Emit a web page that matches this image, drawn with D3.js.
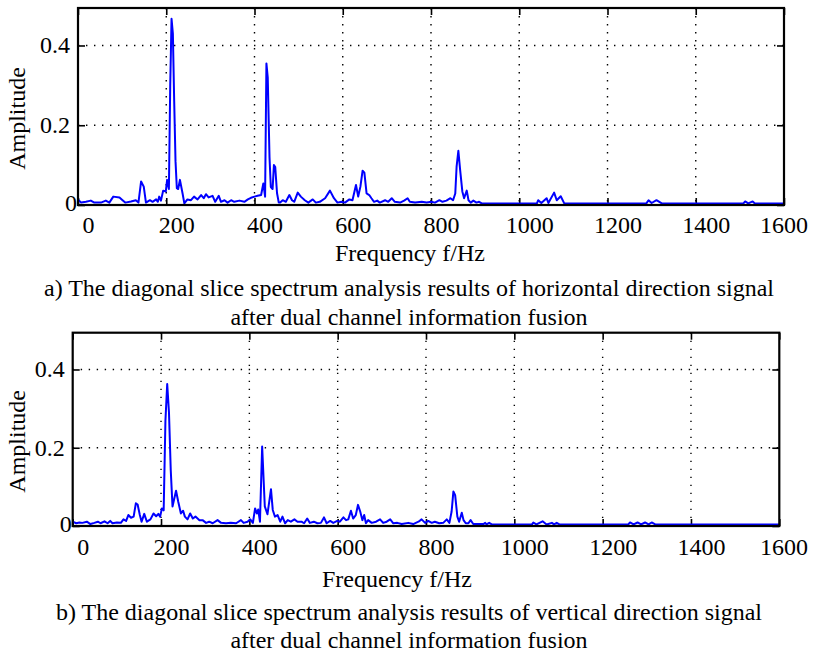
<!DOCTYPE html>
<html>
<head>
<meta charset="utf-8">
<script src="https://cdn.jsdelivr.net/npm/d3@7"></script>
<style>
  body { margin: 0; background: #fff; }
  svg text { font-family: "Liberation Serif", "Times New Roman", serif; font-size: 24px; fill: #000; }
  .grid line { stroke: #000; stroke-width: 1.4; stroke-dasharray: 1.4,6.6; }
  .box { fill: none; stroke: #000; stroke-width: 2.2; }
  .tick line { stroke: #000; stroke-width: 1.6; }
  .domain { display: none; }
</style>
</head>
<body>
<div id="chart"></div>
<script>
// tick values
var xTicks = [0, 200, 400, 600, 800, 1000, 1200, 1400, 1600];
var yTicks = [0, 0.2, 0.4];

// a) horizontal direction signal
var topFreq = [0, 7, 18, 29, 37, 52, 63, 71, 80, 94, 101, 107, 120, 131, 137, 143, 149, 154, 163, 169,
  177, 181, 184, 188, 193, 199, 202, 206, 209, 212, 215, 218, 221, 224, 227, 231, 237, 241, 248, 256,
  263, 271, 279, 285, 290, 296, 305, 311, 319, 324, 332, 339, 347, 354, 366, 377, 385, 392, 400, 407,
  415, 420, 424, 427, 430, 434, 437, 441, 444, 447, 451, 455, 458, 464, 471, 479, 485, 490, 498, 505,
  514, 522, 532, 539, 548, 560, 571, 580, 588, 597, 605, 615, 622, 630, 635, 640, 645, 649, 654, 660,
  665, 671, 678, 684, 696, 703, 711, 718, 730, 739, 747, 752, 764, 779, 790, 801, 809, 819, 826, 835,
  844, 850, 855, 858, 862, 866, 871, 875, 881, 885, 890, 896, 903, 909, 915, 1040, 1043, 1050, 1062, 1066,
  1079, 1085, 1094, 1102, 1288, 1293, 1300, 1311, 1323, 1508, 1512, 1519, 1529, 1534, 1600];
var topAmp = [0.014, 0.006, 0.008, 0.011, 0.006, 0.006, 0.011, 0.006, 0.021, 0.019, 0.012, 0.006, 0.009, 0.012, 0.006, 0.059, 0.046, 0.006, 0.012, 0.008,
  0.014, 0.008, 0.021, 0.011, 0.036, 0.034, 0.063, 0.040, 0.300, 0.467, 0.430, 0.260, 0.110, 0.042, 0.040, 0.063, 0.029, 0.004, 0.014, 0.012,
  0.021, 0.014, 0.025, 0.017, 0.027, 0.019, 0.023, 0.008, 0.023, 0.008, 0.012, 0.006, 0.012, 0.008, 0.011, 0.008, 0.014, 0.018, 0.021, 0.023,
  0.025, 0.054, 0.021, 0.355, 0.320, 0.120, 0.045, 0.040, 0.100, 0.095, 0.030, 0.006, 0.006, 0.012, 0.008, 0.025, 0.012, 0.008, 0.031, 0.021,
  0.012, 0.006, 0.014, 0.006, 0.008, 0.017, 0.036, 0.017, 0.006, 0.008, 0.006, 0.014, 0.012, 0.050, 0.021, 0.046, 0.086, 0.081, 0.029, 0.025,
  0.017, 0.008, 0.011, 0.006, 0.012, 0.008, 0.017, 0.008, 0.006, 0.011, 0.017, 0.008, 0.006, 0.008, 0.006, 0.008, 0.006, 0.012, 0.008, 0.011,
  0.017, 0.012, 0.029, 0.096, 0.136, 0.088, 0.034, 0.017, 0.036, 0.012, 0.006, 0.011, 0.006, 0.008, 0.004, 0.004, 0.012, 0.005, 0.017, 0.005,
  0.031, 0.012, 0.022, 0.004, 0.004, 0.012, 0.005, 0.012, 0.004, 0.004, 0.009, 0.004, 0.009, 0.004, 0.004];

// b) vertical direction signal
var botFreq = [0, 8, 15, 22, 32, 40, 49, 57, 63, 72, 79, 85, 90, 100, 109, 115, 121, 126, 132, 138,
  143, 147, 152, 156, 162, 168, 176, 183, 189, 194, 198, 202, 206, 210, 214, 218, 222, 226, 234, 239,
  245, 250, 254, 260, 266, 272, 278, 287, 294, 302, 309, 317, 328, 336, 347, 358, 370, 381, 387, 396,
  402, 408, 413, 417, 420, 424, 429, 435, 441, 446, 449, 453, 458, 464, 470, 475, 481, 487, 494, 502,
  509, 518, 524, 531, 537, 546, 554, 562, 569, 575, 583, 590, 599, 605, 613, 619, 624, 630, 635, 641,
  646, 651, 656, 660, 664, 669, 677, 687, 696, 703, 711, 719, 726, 735, 745, 760, 771, 783, 790, 798,
  805, 813, 820, 830, 839, 847, 853, 858, 862, 866, 871, 875, 881, 885, 890, 896, 901, 907, 930, 934,
  937, 943, 949, 1040, 1043, 1050, 1064, 1073, 1085, 1090, 1096, 1102, 1258, 1262, 1270, 1279, 1287, 1296, 1304, 1311,
  1319, 1600];
var botAmp = [0.011, 0.007, 0.009, 0.008, 0.011, 0.005, 0.008, 0.011, 0.007, 0.012, 0.007, 0.013, 0.007, 0.009, 0.008, 0.017, 0.013, 0.028, 0.021, 0.024,
  0.058, 0.055, 0.028, 0.011, 0.031, 0.011, 0.017, 0.032, 0.025, 0.031, 0.024, 0.045, 0.040, 0.270, 0.363, 0.290, 0.143, 0.050, 0.090, 0.062,
  0.032, 0.039, 0.024, 0.017, 0.032, 0.019, 0.024, 0.015, 0.015, 0.008, 0.011, 0.007, 0.015, 0.008, 0.007, 0.008, 0.007, 0.015, 0.008, 0.011,
  0.017, 0.008, 0.045, 0.032, 0.042, 0.011, 0.203, 0.050, 0.030, 0.070, 0.094, 0.041, 0.024, 0.028, 0.011, 0.024, 0.007, 0.015, 0.011, 0.017,
  0.011, 0.011, 0.007, 0.019, 0.008, 0.011, 0.007, 0.008, 0.022, 0.007, 0.013, 0.008, 0.013, 0.011, 0.022, 0.015, 0.017, 0.039, 0.019, 0.028,
  0.054, 0.037, 0.015, 0.028, 0.007, 0.015, 0.008, 0.011, 0.017, 0.008, 0.011, 0.017, 0.007, 0.008, 0.005, 0.008, 0.005, 0.011, 0.017, 0.008,
  0.013, 0.008, 0.011, 0.007, 0.008, 0.017, 0.008, 0.037, 0.088, 0.079, 0.024, 0.011, 0.034, 0.015, 0.007, 0.007, 0.015, 0.005, 0.005, 0.008,
  0.004, 0.008, 0.004, 0.004, 0.009, 0.004, 0.012, 0.004, 0.008, 0.004, 0.008, 0.004, 0.004, 0.009, 0.004, 0.009, 0.004, 0.009, 0.004, 0.009,
  0.004, 0.004];

var xLabel = "Frequency f/Hz";
var yLabel = "Amplitude";
var captionA = ["a) The diagonal slice spectrum analysis results of horizontal direction signal",
  "after dual channel information fusion"];
var captionB = ["b) The diagonal slice spectrum analysis results of vertical direction signal",
  "after dual channel information fusion"];

var W = 813, H = 656;
var svg = d3.select("#chart").append("svg")
  .attr("width", W).attr("height", H);

function drawPanel(p) {
  var x = d3.scaleLinear().domain([0, 1600]).range([p.left, p.right]);
  var y = d3.scaleLinear().domain([0, 0.494]).range([p.bottom, p.top]);
  var g = svg.append("g");

  // dotted grid
  g.append("g").attr("class", "grid")
    .selectAll("line").data(xTicks.slice(1, -1)).enter().append("line")
    .attr("x1", function (d) { return x(d); }).attr("x2", function (d) { return x(d); })
    .attr("y1", p.top).attr("y2", p.bottom);
  g.append("g").attr("class", "grid")
    .selectAll("line").data(yTicks.slice(1)).enter().append("line")
    .attr("y1", function (d) { return y(d); }).attr("y2", function (d) { return y(d); })
    .attr("x1", p.left).attr("x2", p.right);

  // inward ticks on all four sides
  g.append("g").attr("transform", "translate(0," + p.bottom + ")")
    .call(d3.axisBottom(x).tickValues(xTicks).tickSize(-7).tickFormat(""));
  g.append("g").attr("transform", "translate(0," + p.top + ")")
    .call(d3.axisTop(x).tickValues(xTicks).tickSize(-7).tickFormat(""));
  g.append("g").attr("transform", "translate(" + p.right + ",0)")
    .call(d3.axisRight(y).tickValues(yTicks).tickSize(-7).tickFormat(""));
  g.append("g").attr("transform", "translate(" + p.left + ",0)")
    .call(d3.axisLeft(y).tickValues(yTicks).tickSize(-7).tickFormat(""));

  // spectrum line
  var pts = p.freq.map(function (f, i) { return [f, p.amp[i]]; });
  var line = d3.line()
    .x(function (d) { return x(d[0]); })
    .y(function (d) { return y(d[1]); });
  g.append("path").datum(pts)
    .attr("d", line)
    .attr("fill", "none")
    .attr("stroke", "#0000ff")
    .attr("stroke-width", 2)
    .attr("stroke-linejoin", "round");

  g.append("rect").attr("class", "box")
    .attr("x", p.left).attr("y", p.top)
    .attr("width", p.right - p.left).attr("height", p.bottom - p.top);

  // x tick labels, sitting a little right of their ticks as in the source
  g.selectAll(".xl").data(xTicks).enter().append("text")
    .attr("class", "xl")
    .attr("text-anchor", "middle")
    .attr("x", function (d) { return x(d) + 10.5; })
    .attr("y", p.xLabY)
    .text(function (d) { return d; })
    .each(function () {
      var half = this.getComputedTextLength() / 2;
      var cx = +d3.select(this).attr("x");
      if (cx + half > W - 5) d3.select(this).attr("x", W - 5 - half);
    });

  // y tick labels
  g.selectAll(".yl").data(yTicks).enter().append("text")
    .attr("class", "yl")
    .attr("text-anchor", "end")
    .attr("x", function (d) { return d === 0 ? p.left - 1 : p.left - 8; })
    .attr("y", function (d) { return d === 0 ? y(d) + 6 : y(d) + 8; })
    .text(function (d) { return d === 0 ? "0" : d3.format(".1f")(d); });

  g.append("text")
    .attr("text-anchor", "middle")
    .attr("x", p.titleX).attr("y", p.titleY)
    .text(xLabel);

  g.append("text")
    .attr("text-anchor", "middle")
    .attr("transform", "translate(" + 25 + "," + ((p.top + p.bottom) / 2 + 12) + ") rotate(-90)")
    .text(yLabel);

  g.selectAll(".cap").data(p.caption).enter().append("text")
    .attr("class", "cap")
    .attr("text-anchor", "middle")
    .attr("x", 409)
    .attr("y", function (d, i) { return p.capY[i]; })
    .text(function (d) { return d; });
}

drawPanel({
  left: 78, right: 784, top: 8, bottom: 205,
  freq: topFreq, amp: topAmp,
  xLabY: 233, titleX: 410, titleY: 261,
  caption: captionA, capY: [296, 325]
});
drawPanel({
  left: 72.7, right: 779.3, top: 332.7, bottom: 526,
  freq: botFreq, amp: botAmp,
  xLabY: 555, titleX: 397, titleY: 587,
  caption: captionB, capY: [620, 648]
});
</script>
</body>
</html>
